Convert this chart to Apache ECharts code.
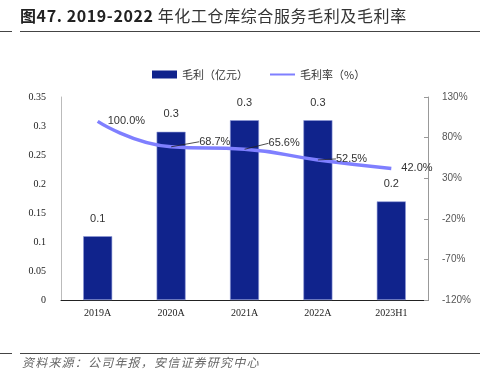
<!DOCTYPE html>
<html><head><meta charset="utf-8">
<script src="https://cdn.jsdelivr.net/npm/echarts@6/dist/echarts.min.js"></script>
<style>html,body{margin:0;padding:0;background:#fff}#c{width:486px;height:388px;position:relative}
.t{position:absolute;left:20px;top:3px;font-family:"Noto Sans CJK SC";font-size:16px;color:#333;letter-spacing:0.6px;white-space:nowrap}
.t b{color:#222}
.s{position:absolute;left:22px;top:353px;font-family:"Noto Sans CJK SC";font-style:italic;font-size:12px;color:#666;letter-spacing:1.2px;white-space:nowrap}
.l{position:absolute;height:1px;background:#444}
</style></head><body>
<div id="c"></div>
<div class="t"><b>图47. 2019-2022</b> 年化工仓库综合服务毛利及毛利率</div>
<div class="l" style="left:0;width:12px;top:31px"></div>
<div class="l" style="left:20px;width:460px;top:31px"></div>
<div class="l" style="left:0;width:12px;top:353px"></div>
<div class="l" style="left:20px;width:460px;top:353px"></div>
<div class="s">资料来源：公司年报，安信证券研究中心</div>
<script>
var categories = ['2019A','2020A','2021A','2022A','2023H1'];
var grossProfit = [0.11, 0.29, 0.31, 0.31, 0.17];
var grossProfitLabels = ['0.1','0.3','0.3','0.3','0.2'];
var grossMargin = [100.0, 68.7, 65.6, 52.5, 42.0];
var leftTicks = [0, 0.35, 0.05];
var rightTicks = [-120, 130, 50];

var labelShift = [[10,0],[28,-5],[24,-6],[18,-1],[10,0]];
var showLeader = [false,true,true,true,false];

var marginData = grossMargin.map(function(v,i){
  return {value:v, labelLine:{show:showLeader[i]}};
});

var chart = echarts.init(document.getElementById('c'));
chart.setOption({
  animation:false,
  legend:{top:64,left:147,itemGap:22,itemWidth:25,itemHeight:8,
    textStyle:{fontFamily:'Noto Sans CJK SC',fontSize:11,color:'#333'},
    data:[{name:'毛利（亿元）',icon:'rect',itemStyle:{borderWidth:0}},
          {name:'毛利率（%）',icon:'path://M0,3.5L25,3.5L25,5.5L0,5.5Z'}]},
  grid:{left:61,right:58,top:97,bottom:88},
  xAxis:{type:'category',data:categories,
    axisLine:{lineStyle:{color:'#222'}},axisTick:{show:false},
    axisLabel:{fontFamily:'Liberation Serif',fontSize:10,color:'#222',margin:8}},
  yAxis:[
    {type:'value',min:leftTicks[0],max:leftTicks[1],interval:leftTicks[2],
     splitLine:{show:false},axisLine:{show:true,lineStyle:{color:'#bbb'}},
     axisTick:{show:false},
     axisLabel:{fontFamily:'Liberation Serif',fontSize:10,color:'#222',margin:15,
       formatter:function(v){return String(+v.toFixed(2));}}},
    {type:'value',min:rightTicks[0],max:rightTicks[1],interval:rightTicks[2],
     splitLine:{show:false},axisLine:{show:true,lineStyle:{color:'#999'}},
     axisTick:{show:true,inside:true,length:4,lineStyle:{color:'#999'}},
     axisLabel:{fontFamily:'Liberation Sans',fontSize:10,color:'#555',margin:14,
       formatter:'{value}%'}}
  ],
  series:[
    {name:'毛利（亿元）',type:'bar',data:grossProfit,barWidth:29,
     itemStyle:{color:'#10238C',borderColor:'#8E9BD8',borderWidth:0.6},
     label:{show:true,position:'top',distance:12,fontFamily:'Liberation Sans',fontSize:11,color:'#333',
       formatter:function(p){return grossProfitLabels[p.dataIndex];}}},
    {name:'毛利率（%）',type:'line',yAxisIndex:1,data:marginData,smooth:true,
     symbol:'circle',symbolSize:0.1,showSymbol:true,
     lineStyle:{color:'#7F7FFF',width:3.5},itemStyle:{color:'#7F7FFF'},
     label:{show:true,position:'right',distance:0,fontFamily:'Liberation Sans',fontSize:11,color:'#333',
       formatter:function(p){return p.value.toFixed(1)+'%';}},
     labelLine:{show:true,lineStyle:{color:'#222',width:0.8}},
     labelLayout:function(params){
       var s = labelShift[params.dataIndex];
       return {dx:s[0],dy:s[1]};
     }}
  ]
});
</script></body></html>
